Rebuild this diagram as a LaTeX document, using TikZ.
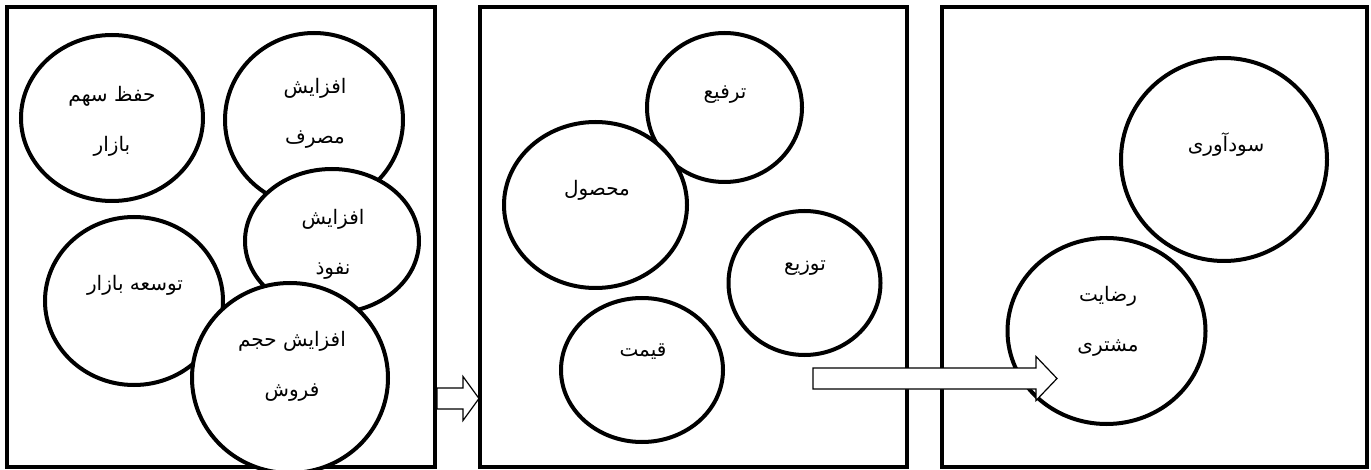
\documentclass[tikz,border=0pt]{standalone}
\usepackage{fontspec}
\newfontfamily\arabicfont[Script=Arabic]{DejaVu Sans}
\TeXXeTstate=1
\usetikzlibrary{calc,shapes.geometric}
\newcommand\fa[1]{{\arabicfont\beginR #1\endR}}
\newcommand\fatarrow[3]{%
  \draw[blockarrow] ($(#1)+(0,-10.5)$) -- ($(#2)+(-#3,-10.5)$) -- ($(#2)+(-#3,-22)$)
    -- (#2) -- ($(#2)+(-#3,22)$) -- ($(#2)+(-#3,10.5)$) -- ($(#1)+(0,10.5)$) -- cycle;}

\begin{document}
\begin{tikzpicture}[
    x=0.5pt, y=-0.5pt,
    panel/.style={draw,line width=2pt,inner sep=0pt,minimum height=230pt},
    bubble/.style={ellipse,draw,fill=white,line width=2pt,inner sep=0pt},
    txt/.style={align=center,inner sep=0pt,font=\fontsize{10}{25}\selectfont},
    blockarrow/.style={draw,fill=white,line width=0.6pt,line join=miter}
]
\useasboundingbox (0,0) rectangle (1371,470);

\node[panel,minimum width=214pt] (box1) at (221,237) {};
\node[panel,minimum width=213.5pt] (box2) at (693.5,237) {};
\node[panel,minimum width=212.5pt] (box3) at (1154.5,237) {};

% first panel
\node[bubble,minimum width=91pt,minimum height=83pt] (hefz) at (112,118) {};
\node[bubble,minimum width=89pt,minimum height=87pt] (masraf) at (314,120) {};
\node[bubble,minimum width=87pt,minimum height=72pt] (nofuz) at (332,241) {};
\node[bubble,minimum width=89pt,minimum height=84pt] (tosee) at (134,301) {};
\node[bubble,minimum width=98pt,minimum height=95pt] (foroosh) at (290,378) {};
\node[txt] (hefz-t) at (112,121.5) {\fa{حفظ سهم}\\\fa{بازار}};
\node[txt] (masraf-t) at (315,113.5) {\fa{افزایش}\\\fa{مصرف}};
\node[txt] (nofuz-t) at (333,244.5) {\fa{افزایش}\\\fa{نفوذ}};
\node[txt] (tosee-t) at (135,285) {\fa{توسعه بازار}};
\node[txt] (foroosh-t) at (292,366.5) {\fa{افزایش حجم}\\\fa{فروش}};

% second panel
\node[bubble,minimum width=77.5pt,minimum height=74.5pt] (tarfi) at (724.5,107.5) {};
\node[bubble,minimum width=91.5pt,minimum height=83pt] (mahsul) at (595.5,205) {};
\node[bubble,minimum width=76pt,minimum height=72pt] (tozi) at (804.5,283) {};
\node[bubble,minimum width=81pt,minimum height=72pt] (gheymat) at (642,370) {};
\node[txt] (tarfi-t) at (725,95) {\fa{ترفیع}};
\node[txt] (mahsul-t) at (597,190) {\fa{محصول}};
\node[txt] (tozi-t) at (805,268) {\fa{توزیع}};
\node[txt] (gheymat-t) at (643,352) {\fa{قیمت}};

% third panel
\node[bubble,minimum width=103pt,minimum height=101.5pt] (sood) at (1224,159.5) {};
\node[bubble,minimum width=99pt,minimum height=93pt] (reza) at (1106.5,331) {};
\node[txt] (sood-t) at (1226,145) {\fa{سودآوری}};
\node[txt] (reza-t) at (1108,321.5) {\fa{رضایت}\\\fa{مشتری}};

% arrows
\coordinate (a1s) at (437,398.5);
\coordinate (a1e) at (479,398.5);
\coordinate (a2s) at (813,378.5);
\coordinate (a2e) at (1057,378.5);
\fatarrow{a1s}{a1e}{16}
\fatarrow{a2s}{a2e}{21}
\end{tikzpicture}
\end{document}
